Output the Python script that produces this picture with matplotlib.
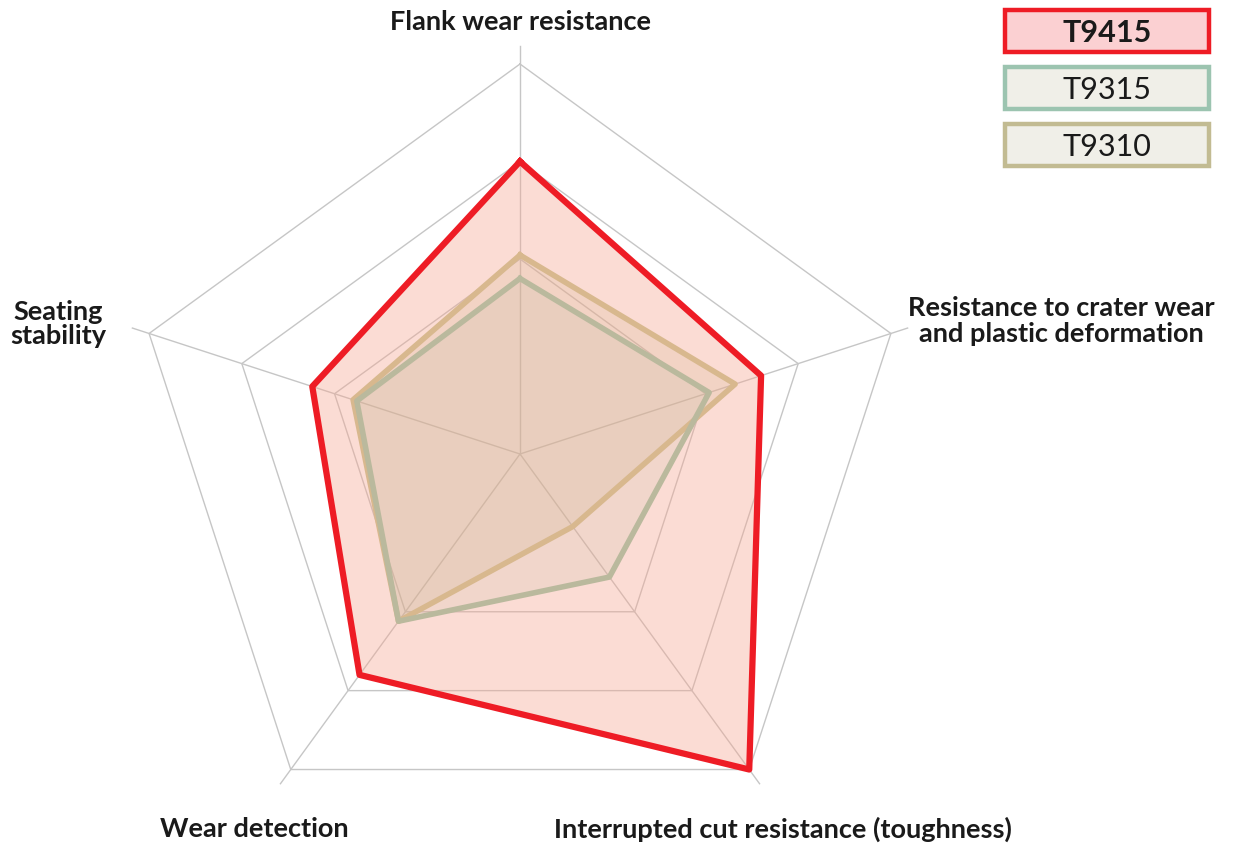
import numpy as np
import matplotlib
matplotlib.use("Agg")
import matplotlib.pyplot as plt
from matplotlib.patches import Rectangle

plt.rcParams['font.family'] = ['Lato', 'DejaVu Sans']

# Chart data (0-100, rings every 25, inner ring hidden) ==================
categories = ["Flank wear resistance",
              "Resistance to crater wear\nand plastic deformation",
              "Interrupted cut resistance (toughness)",
              "Wear detection",
              "Seating\nstability"]
series_names = ["T9415", "T9315", "T9310"]
t9415 = [75, 65, 100, 70, 56]
t9315 = [45, 51, 39, 53, 44]
t9310 = [51, 58, 23, 53, 45]
rings = [50, 75, 100]

W, H = 1233, 845
fig = plt.figure(figsize=(W / 100, H / 100), dpi=100)

def fx(px):
    return px / W

def fy(py):
    return 1 - py / H

# Polar axes placed so the centre sits at (520, 455) px, r=100 -> 390 px
cx, cy, R = 520, 455, 390
rmax = 105
rpx = R * rmax / 100
ax = fig.add_axes([fx(cx - rpx), fy(cy + rpx), 2 * rpx / W, 2 * rpx / H], projection='polar')
ax.set_theta_offset(np.pi / 2)
ax.set_theta_direction(-1)
ax.set_ylim(0, rmax)
ax.axis('off')

angles = np.linspace(0, 2 * np.pi, len(categories), endpoint=False)
closed = np.append(angles, angles[0])

def close(vals):
    return np.append(vals, vals[0])

# grid
grid_col = "#c6c6c6"
for r in rings:
    ax.plot(closed, [r] * len(closed), color=grid_col, lw=1, zorder=1)
for a in angles:
    ax.plot([a, a], [0, 104.5], color=grid_col, lw=1, zorder=1)

# series
ax.fill(closed, close(t9415), color="#f7a58f", alpha=0.38, lw=0, zorder=2)
ax.fill(closed, close(t9310), color="#d2b48c", alpha=0.22, lw=0, zorder=3)
ax.fill(closed, close(t9315), color="#b9b89c", alpha=0.15, lw=0, zorder=3)
ax.plot(closed, close(t9310), color="#d8b88e", lw=4, zorder=4)
ax.plot(closed, close(t9315), color="#bab99d", lw=4, zorder=5)
ax.plot(closed, close(t9415), color="#ee1c25", lw=4.5, zorder=6)

# axis labels
lab_kw = dict(fontsize=19.5, fontweight='bold', color="#1a1a1a", va='center')
fig.text(fx(520), fy(22), categories[0], ha='center', **lab_kw)
fig.text(fx(1061), fy(321), categories[1], ha='center', linespacing=1.05, **lab_kw)
fig.text(fx(783), fy(829), categories[2], ha='center', **lab_kw)
fig.text(fx(254), fy(829), categories[3], ha='center', **lab_kw)
fig.text(fx(58), fy(324), categories[4], ha='center', linespacing=1.05, **lab_kw)

# legend boxes
box_faces = ["#fbd0d2", "#f0efe8", "#f0efe8"]
box_edges = ["#ee1c25", "#9cc4b0", "#c2bb92"]
box_tops = [11, 68, 125]
for name, fc, ec, top in zip(series_names, box_faces, box_edges, box_tops):
    fig.patches.append(Rectangle((fx(1005), fy(top + 42)), fx(204), 42 / H,
                                 transform=fig.transFigure, facecolor=fc,
                                 edgecolor=ec, lw=3.2))
    fig.text(fx(1107), fy(top + 22), name, ha='center', va='center', fontsize=22,
             fontweight='bold' if name == "T9415" else 'normal', color="#1a1a1a")

fig.savefig("out.png", dpi=100)
